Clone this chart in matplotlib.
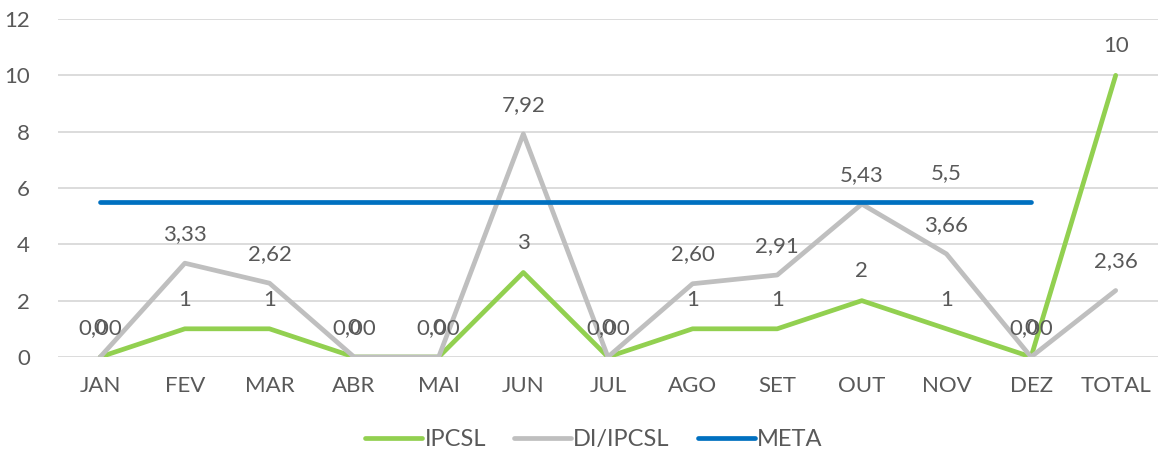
import matplotlib
matplotlib.use("Agg")
import matplotlib.pyplot as plt

categories = ["JAN", "FEV", "MAR", "ABR", "MAI", "JUN", "JUL", "AGO", "SET", "OUT", "NOV", "DEZ", "TOTAL"]
ipcsl = [0, 1, 1, 0, 0, 3, 0, 1, 1, 2, 1, 0, 10]
di_ipcsl = [0, 3.33, 2.62, 0, 0, 7.92, 0, 2.60, 2.91, 5.43, 3.66, 0, 2.36]
meta = [5.5] * 12
meta_label_index = 10
yticks = [0, 2, 4, 6, 8, 10, 12]

plt.rcParams['font.family'] = ['Lato', 'DejaVu Sans']
text_color = "#595959"
FS = 16

fig = plt.figure(figsize=(11.58, 4.53), dpi=100)
ax = fig.add_axes([0.050, 0.212, 0.950, 0.746])

x = list(range(len(categories)))
green, gray, blue = "#92D050", "#BFBFBF", "#0070C0"

ax.plot(x, ipcsl, color=green, lw=3.4, label="IPCSL", solid_capstyle="round", zorder=3)
ax.plot(x, di_ipcsl, color=gray, lw=3.4, label="DI/IPCSL", solid_capstyle="round", zorder=4)
ax.plot(x[:len(meta)], meta, color=blue, lw=3.4, label="META", solid_capstyle="round", zorder=5)

def fmt2(v):
    return f"{v:.2f}".replace(".", ",")

for xi, v in zip(x, ipcsl):
    ax.annotate(f"{v:g}", (xi, v), xytext=(0, 21), textcoords="offset points",
                ha="center", va="center", fontsize=FS, color=text_color, zorder=6)
for xi, v in zip(x, di_ipcsl):
    ax.annotate(fmt2(v), (xi, v), xytext=(0, 21), textcoords="offset points",
                ha="center", va="center", fontsize=FS, color=text_color, zorder=6)
mv = meta[meta_label_index]
ax.annotate(f"{mv:g}".replace(".", ","), (meta_label_index, mv), xytext=(0, 21),
            textcoords="offset points", ha="center", va="center", fontsize=FS,
            color=text_color, zorder=6)

ax.set_xlim(-0.5, len(categories) - 0.5)
ax.set_ylim(0, 12)
ax.set_yticks(yticks)
ax.set_yticklabels([str(t) for t in yticks])
ax.set_xticks(x)
ax.set_xticklabels(categories)
ax.tick_params(axis="both", length=0, labelsize=FS, labelcolor=text_color)
ax.tick_params(axis="y", pad=20)
ax.tick_params(axis="x", pad=14)
ax.grid(axis="y", color="#D9D9D9", lw=1.3)
ax.set_axisbelow(True)
for s in ax.spines.values():
    s.set_visible(False)

leg = fig.legend(loc="lower center", bbox_to_anchor=(0.513, -0.04), ncol=3, frameon=False,
                 fontsize=17, handlelength=2.4, handletextpad=0.1, columnspacing=1.2)
for t in leg.get_texts():
    t.set_color(text_color)

fig.savefig("out.png", dpi=100)
